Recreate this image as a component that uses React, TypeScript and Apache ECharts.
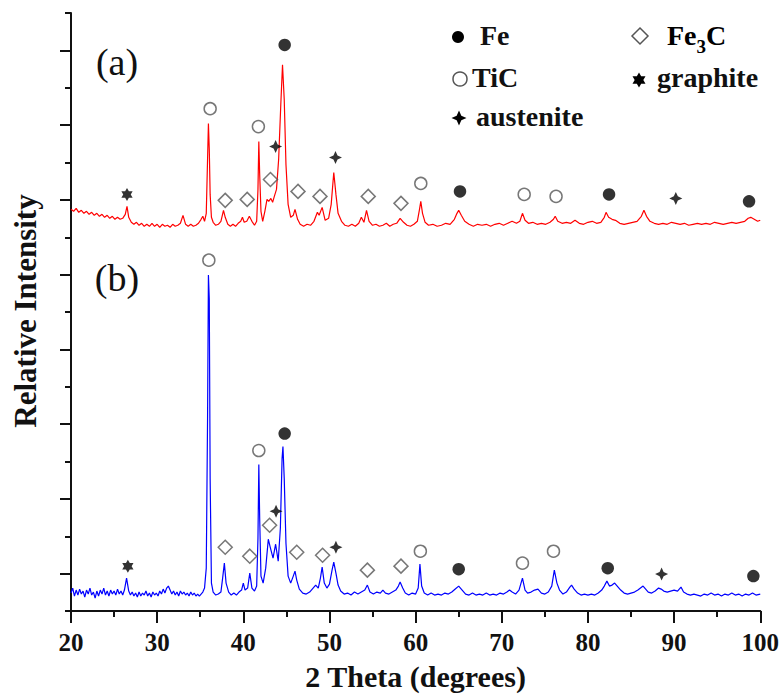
import React, { useEffect, useRef } from "react";
import * as echarts from "echarts";

// ---- data (2θ in degrees, relative intensity in arbitrary units; pattern (a) is plotted with its stacking offset included) ----
const xTickValues = [20, 30, 40, 50, 60, 70, 80, 90, 100];

const patternA: [number, number][] = [
  [20.0, 403], [20.3, 401], [20.6, 404], [20.9, 400], [21.2, 402], [21.5, 399], [21.8, 401], [22.1, 398],
  [22.4, 400], [22.7, 397], [23.0, 399], [23.3, 396], [23.6, 398], [23.9, 395], [24.2, 397], [24.5, 394],
  [24.8, 396], [25.1, 393], [25.4, 395], [25.7, 393], [26.0, 394], [26.3, 398], [26.5, 406], [26.7, 395],
  [27.0, 390], [27.3, 388], [27.6, 390], [27.9, 387], [28.2, 389], [28.5, 386], [28.8, 388], [29.1, 386],
  [29.4, 389], [29.7, 386], [30.0, 388], [30.3, 385], [30.6, 388], [30.9, 386], [31.2, 387], [31.5, 385],
  [31.8, 388], [32.1, 386], [32.4, 387], [32.7, 389], [33.0, 397], [33.3, 388], [33.6, 386], [33.9, 388],
  [34.2, 386], [34.5, 387], [34.8, 389], [35.1, 393], [35.3, 396], [35.5, 391], [35.7, 399], [35.85, 453],
  [35.95, 489], [36.05, 463], [36.15, 418], [36.3, 395], [36.5, 390], [36.8, 387], [37.1, 388], [37.4, 391],
  [37.7, 402], [37.9, 395], [38.2, 388], [38.5, 386], [38.8, 388], [39.1, 386], [39.4, 389], [39.7, 391],
  [39.9, 395], [40.1, 390], [40.4, 391], [40.7, 396], [41.0, 391], [41.3, 387], [41.55, 391], [41.7, 423],
  [41.8, 471], [41.9, 438], [42.05, 401], [42.25, 391], [42.5, 401], [42.75, 413], [42.95, 411], [43.2, 414],
  [43.4, 410], [43.6, 416], [43.85, 423], [44.1, 453], [44.35, 508], [44.55, 548], [44.75, 513], [44.95, 448],
  [45.2, 408], [45.5, 395], [45.8, 397], [46.0, 403], [46.3, 393], [46.6, 388], [47.0, 386], [47.4, 388],
  [47.8, 387], [48.2, 391], [48.6, 400], [48.8, 397], [49.15, 405], [49.5, 392], [49.9, 394], [50.2, 408],
  [50.5, 440], [50.75, 418], [51.0, 399], [51.4, 391], [51.8, 387], [52.2, 386], [52.6, 388], [53.0, 386],
  [53.4, 389], [53.7, 395], [54.0, 390], [54.3, 402], [54.6, 391], [55.0, 387], [55.4, 388], [55.8, 386],
  [56.2, 387], [56.6, 389], [57.0, 386], [57.4, 388], [57.8, 389], [58.2, 394], [58.6, 390], [59.0, 387],
  [59.4, 386], [59.8, 388], [60.2, 391], [60.45, 403], [60.6, 411], [60.8, 399], [61.1, 390], [61.5, 387],
  [62.0, 388], [62.5, 386], [63.0, 387], [63.5, 389], [64.0, 388], [64.5, 393], [64.8, 399], [65.0, 402],
  [65.3, 397], [65.7, 391], [66.2, 388], [66.7, 386], [67.2, 388], [67.7, 387], [68.2, 388], [68.7, 386],
  [69.2, 388], [69.7, 389], [70.2, 387], [70.7, 389], [71.2, 391], [71.7, 389], [72.1, 391], [72.4, 399],
  [72.7, 392], [73.1, 389], [73.6, 390], [74.1, 388], [74.6, 389], [75.1, 388], [75.6, 390], [76.0, 393],
  [76.2, 396], [76.5, 391], [77.0, 389], [77.5, 390], [78.0, 389], [78.5, 392], [79.0, 389], [79.5, 388],
  [80.0, 390], [80.5, 391], [81.0, 389], [81.5, 390], [81.9, 395], [82.1, 400], [82.4, 395], [82.8, 393],
  [83.2, 392], [83.7, 389], [84.2, 388], [84.7, 389], [85.2, 390], [85.7, 391], [86.2, 396], [86.5, 402],
  [86.8, 396], [87.2, 391], [87.7, 389], [88.2, 388], [88.7, 389], [89.2, 388], [89.7, 390], [90.2, 389],
  [90.7, 388], [91.2, 389], [91.7, 387], [92.2, 388], [92.7, 389], [93.2, 388], [93.7, 389], [94.2, 388],
  [94.7, 390], [95.2, 389], [95.7, 388], [96.2, 389], [96.7, 390], [97.2, 389], [97.7, 390], [98.2, 391],
  [98.6, 394], [98.9, 395], [99.3, 393], [99.7, 391], [100.0, 392],
];

const patternB: [number, number][] = [
  [20.0, 18], [20.2, 23], [20.4, 15], [20.6, 21], [20.8, 16], [21.0, 22], [21.2, 17], [21.4, 20],
  [21.6, 14], [21.8, 21], [22.0, 17], [22.2, 23], [22.4, 16], [22.6, 19], [22.8, 13], [23.0, 20],
  [23.2, 15], [23.4, 21], [23.6, 17], [23.8, 23], [24.0, 16], [24.2, 20], [24.4, 15], [24.6, 21],
  [24.8, 17], [25.0, 20], [25.2, 16], [25.4, 22], [25.6, 17], [25.8, 20], [26.0, 16], [26.2, 21],
  [26.45, 33], [26.7, 20], [26.9, 16], [27.1, 19], [27.3, 15], [27.5, 18], [27.7, 14], [27.9, 19],
  [28.1, 15], [28.3, 18], [28.5, 16], [28.7, 20], [28.9, 15], [29.1, 18], [29.3, 14], [29.5, 19],
  [29.7, 16], [29.9, 18], [30.1, 15], [30.3, 20], [30.5, 17], [30.7, 22], [30.9, 18], [31.1, 23],
  [31.3, 25], [31.5, 21], [31.7, 17], [31.9, 20], [32.1, 16], [32.3, 19], [32.5, 15], [32.7, 20],
  [32.9, 17], [33.1, 19], [33.3, 16], [33.5, 18], [33.7, 15], [33.9, 19], [34.1, 16], [34.3, 18],
  [34.5, 15], [34.7, 17], [34.9, 15], [35.1, 17], [35.3, 19], [35.5, 23], [35.7, 43], [35.85, 193],
  [35.95, 337], [36.05, 313], [36.15, 133], [36.3, 28], [36.5, 19], [36.8, 16], [37.1, 17], [37.4, 19],
  [37.6, 33], [37.8, 48], [38.0, 28], [38.3, 19], [38.6, 16], [38.9, 18], [39.2, 16], [39.5, 19],
  [39.8, 21], [40.0, 28], [40.2, 21], [40.5, 23], [40.75, 38], [41.0, 23], [41.3, 20], [41.55, 25],
  [41.7, 73], [41.8, 147], [41.9, 93], [42.05, 35], [42.3, 28], [42.6, 43], [42.9, 72], [43.15, 63],
  [43.45, 53], [43.75, 67], [44.05, 50], [44.3, 83], [44.5, 153], [44.6, 165], [44.75, 133], [44.95, 68],
  [45.2, 35], [45.5, 28], [45.8, 35], [46.0, 40], [46.2, 31], [46.5, 22], [46.9, 18], [47.3, 17],
  [47.7, 19], [48.1, 23], [48.4, 26], [48.7, 23], [48.95, 33], [49.15, 44], [49.4, 28], [49.7, 23],
  [50.0, 27], [50.3, 41], [50.5, 49], [50.75, 38], [51.0, 26], [51.3, 20], [51.7, 17], [52.1, 18],
  [52.5, 16], [52.9, 19], [53.3, 17], [53.7, 19], [54.1, 21], [54.4, 26], [54.7, 19], [55.1, 17],
  [55.5, 19], [55.9, 18], [56.2, 21], [56.5, 18], [56.9, 17], [57.3, 19], [57.7, 21], [58.0, 25],
  [58.2, 29], [58.5, 23], [58.8, 18], [59.2, 16], [59.6, 18], [60.0, 17], [60.3, 23], [60.5, 47],
  [60.7, 25], [61.0, 18], [61.4, 16], [61.8, 18], [62.2, 16], [62.6, 17], [63.0, 16], [63.4, 18],
  [63.8, 17], [64.2, 19], [64.6, 22], [65.0, 25], [65.4, 21], [65.8, 17], [66.2, 16], [66.6, 18],
  [67.0, 16], [67.4, 17], [67.8, 16], [68.2, 18], [68.6, 16], [69.0, 17], [69.4, 16], [69.8, 18],
  [70.2, 17], [70.6, 19], [70.9, 21], [71.2, 19], [71.6, 17], [72.0, 21], [72.4, 33], [72.7, 21],
  [73.0, 18], [73.4, 19], [73.8, 21], [74.2, 22], [74.6, 18], [75.0, 17], [75.4, 19], [75.8, 25],
  [76.1, 41], [76.4, 28], [76.7, 21], [77.1, 17], [77.5, 19], [77.9, 24], [78.1, 26], [78.4, 22],
  [78.8, 18], [79.2, 16], [79.6, 17], [80.0, 16], [80.4, 17], [80.8, 16], [81.2, 18], [81.6, 21],
  [81.9, 25], [82.2, 30], [82.5, 25], [82.8, 26], [83.1, 28], [83.4, 25], [83.8, 21], [84.2, 18],
  [84.6, 17], [85.0, 18], [85.4, 19], [85.8, 21], [86.1, 23], [86.4, 25], [86.7, 22], [87.0, 19],
  [87.4, 18], [87.8, 20], [88.2, 23], [88.5, 22], [88.8, 20], [89.2, 19], [89.6, 20], [90.0, 21],
  [90.4, 20], [90.8, 24], [91.1, 19], [91.5, 17], [91.9, 16], [92.3, 17], [92.7, 16], [93.1, 15],
  [93.5, 17], [93.9, 16], [94.3, 18], [94.7, 16], [95.1, 17], [95.5, 15], [95.9, 17], [96.3, 16],
  [96.7, 18], [97.1, 16], [97.5, 17], [97.9, 15], [98.3, 17], [98.7, 16], [99.1, 18], [99.5, 16],
  [100.0, 17],
];

// phase markers (2θ, marker height)
const feMarksA: [number, number][] = [[44.8, 568], [65.15, 421], [82.45, 418], [98.7, 411]];
const feMarksB: [number, number][] = [[44.8, 178], [65.0, 42], [82.3, 43], [99.2, 35]];
const ticMarksA: [number, number][] = [[36.15, 504], [41.75, 486], [60.6, 429], [72.6, 418], [76.3, 416]];
const ticMarksB: [number, number][] = [[36.0, 352], [41.8, 161], [60.55, 60], [72.4, 48], [76.0, 60]];
const fe3cMarksA: [number, number][] = [[37.9, 412], [40.45, 413], [43.15, 433], [46.35, 421], [48.9, 416], [54.5, 416], [58.3, 409]];
const fe3cMarksB: [number, number][] = [[37.9, 64], [40.75, 55], [43.05, 86], [46.2, 59], [49.2, 56], [54.4, 41], [58.3, 45]];
const graphiteMarksA: [number, number][] = [[26.5, 418]];
const graphiteMarksB: [number, number][] = [[26.6, 45]];
const austeniteMarksA: [number, number][] = [[43.75, 466], [50.7, 455], [90.2, 414]];
const austeniteMarksB: [number, number][] = [[43.8, 100], [50.75, 64], [88.55, 37]];

const panelLabels = ["(a)", "(b)"];
const phaseNames = ["Fe", "TiC", "austenite", "Fe3C", "graphite"];

const SERIF = '"Liberation Serif", "Times New Roman", serif';

function starPath(n: number, outer: number, inner: number): string {
  let d = "";
  for (let i = 0; i < 2 * n; i++) {
    const a = -Math.PI / 2 + (i * Math.PI) / n;
    const r = i % 2 === 0 ? outer : inner;
    d += (i === 0 ? "M" : "L") + (r * Math.cos(a)).toFixed(3) + "," + (r * Math.sin(a)).toFixed(3) + " ";
  }
  return d + "Z";
}
function starPoints(cx: number, cy: number, n: number, outer: number, inner: number): number[][] {
  const pts: number[][] = [];
  for (let i = 0; i < 2 * n; i++) {
    const a = -Math.PI / 2 + (i * Math.PI) / n;
    const r = i % 2 === 0 ? outer : inner;
    pts.push([cx + r * Math.cos(a), cy + r * Math.sin(a)]);
  }
  return pts;
}

const hexStar = "path://" + starPath(6, 10, 5.77);
const fourStar = "path://" + starPath(4, 10, 4.4);

export default function App() {
  const ref = useRef<HTMLDivElement>(null);
  useEffect(() => {
    if (!ref.current) return;
    const chart = echarts.init(ref.current, null, { renderer: "svg" });
    const openStyle = { color: "rgba(0,0,0,0)", borderColor: "#555", borderWidth: 1.5 };
    const filledStyle = { color: "#000" };
    const legendFont = { fontFamily: SERIF, fontWeight: "bold" as const, fontSize: 28, fill: "#111" };
    chart.setOption({
      animation: false,
      backgroundColor: "#fff",
      grid: { left: 71, right: 20, top: 13, bottom: 83 },
      xAxis: {
        type: "value",
        min: xTickValues[0],
        max: xTickValues[xTickValues.length - 1],
        interval: 10,
        name: "2 Theta (degrees)",
        nameLocation: "middle",
        nameGap: 50,
        nameTextStyle: { fontFamily: SERIF, fontWeight: "bold", fontSize: 30, color: "#111" },
        axisLine: { onZero: false, lineStyle: { color: "#111", width: 2 } },
        axisTick: { show: true, length: 12, lineStyle: { color: "#111", width: 2 } },
        minorTick: { show: true, splitNumber: 2, length: 6, lineStyle: { color: "#111", width: 2 } },
        axisLabel: { margin: 19, fontFamily: SERIF, fontWeight: "bold", fontSize: 25, color: "#111" },
        splitLine: { show: false },
        minorSplitLine: { show: false },
      },
      yAxis: {
        type: "value",
        min: 0,
        max: 600,
        interval: 75,
        axisLine: { show: true, onZero: false, lineStyle: { color: "#111", width: 2 } },
        axisTick: { show: true, length: 6, lineStyle: { color: "#111", width: 2 } },
        minorTick: { show: true, splitNumber: 2, length: 11, lineStyle: { color: "#111", width: 2 } },
        axisLabel: { show: false },
        splitLine: { show: false },
        minorSplitLine: { show: false },
      },
      series: [
        { type: "line", name: "(a)", data: patternA, showSymbol: false, symbol: "none", lineStyle: { color: "#ff0000", width: 1.2 }, z: 2 },
        { type: "line", name: "(b)", data: patternB, showSymbol: false, symbol: "none", lineStyle: { color: "#0000ff", width: 1.2 }, z: 2 },
        { type: "scatter", name: "Fe", data: [...feMarksA, ...feMarksB], symbol: "circle", symbolSize: 12.5, itemStyle: filledStyle, z: 5 },
        { type: "scatter", name: "TiC", data: [...ticMarksA, ...ticMarksB], symbol: "circle", symbolSize: 12, itemStyle: openStyle, z: 5 },
        { type: "scatter", name: "Fe3C", data: [...fe3cMarksA, ...fe3cMarksB], symbol: "diamond", symbolSize: 14, itemStyle: openStyle, z: 5 },
        { type: "scatter", name: "graphite", data: [...graphiteMarksA, ...graphiteMarksB], symbol: hexStar, symbolSize: 13, symbolKeepAspect: true, itemStyle: filledStyle, z: 5 },
        { type: "scatter", name: "austenite", data: [...austeniteMarksA, ...austeniteMarksB], symbol: fourStar, symbolSize: 13, symbolKeepAspect: true, itemStyle: filledStyle, z: 5 },
      ],
      graphic: [
        { type: "text", x: 117, y: 62, style: { text: panelLabels[0], fontFamily: SERIF, fontSize: 38, fill: "#111", textAlign: "center", textVerticalAlign: "middle" } },
        { type: "text", x: 117, y: 278, style: { text: panelLabels[1], fontFamily: SERIF, fontSize: 38, fill: "#111", textAlign: "center", textVerticalAlign: "middle" } },
        { type: "text", x: 25, y: 311, rotation: Math.PI / 2, style: { text: "Relative Intensity", fontFamily: SERIF, fontWeight: "bold", fontSize: 31, fill: "#111", textAlign: "center", textVerticalAlign: "middle" } },
        // legend
        { type: "circle", shape: { cx: 458, cy: 37, r: 6 }, style: { fill: "#000" } },
        { type: "text", x: 480, y: 35, style: { text: phaseNames[0], ...legendFont, textVerticalAlign: "middle" } },
        { type: "circle", shape: { cx: 460, cy: 79, r: 7 }, style: { fill: "none", stroke: "#555", lineWidth: 1.5 } },
        { type: "text", x: 472, y: 77, style: { text: phaseNames[1], ...legendFont, textVerticalAlign: "middle" } },
        { type: "polygon", shape: { points: starPoints(459, 118, 4, 7.5, 3.3) }, style: { fill: "#000" } },
        { type: "text", x: 476, y: 116, style: { text: phaseNames[2], ...legendFont, textVerticalAlign: "middle" } },
        { type: "polygon", shape: { points: [[640, 28], [648, 36], [640, 44], [632, 36]] }, style: { fill: "none", stroke: "#555", lineWidth: 1.5 } },
        {
          type: "text", x: 667, y: 35,
          style: {
            text: "{a|Fe}{s|3}{a|C}",
            textVerticalAlign: "middle",
            rich: {
              a: { fontFamily: SERIF, fontWeight: "bold", fontSize: 28, color: "#111", lineHeight: 42 },
              s: { fontFamily: SERIF, fontWeight: "bold", fontSize: 19, color: "#111", lineHeight: 19, verticalAlign: "bottom" },
            },
          },
        },
        { type: "polygon", shape: { points: starPoints(639, 80, 6, 7.5, 4.33) }, style: { fill: "#000" } },
        { type: "text", x: 657, y: 77, style: { text: phaseNames[4], ...legendFont, textVerticalAlign: "middle" } },
      ],
    });
    return () => chart.dispose();
  }, []);
  return <div ref={ref} style={{ position: "fixed", left: 0, top: 0, width: 782, height: 696, background: "#fff" }} />;
}
